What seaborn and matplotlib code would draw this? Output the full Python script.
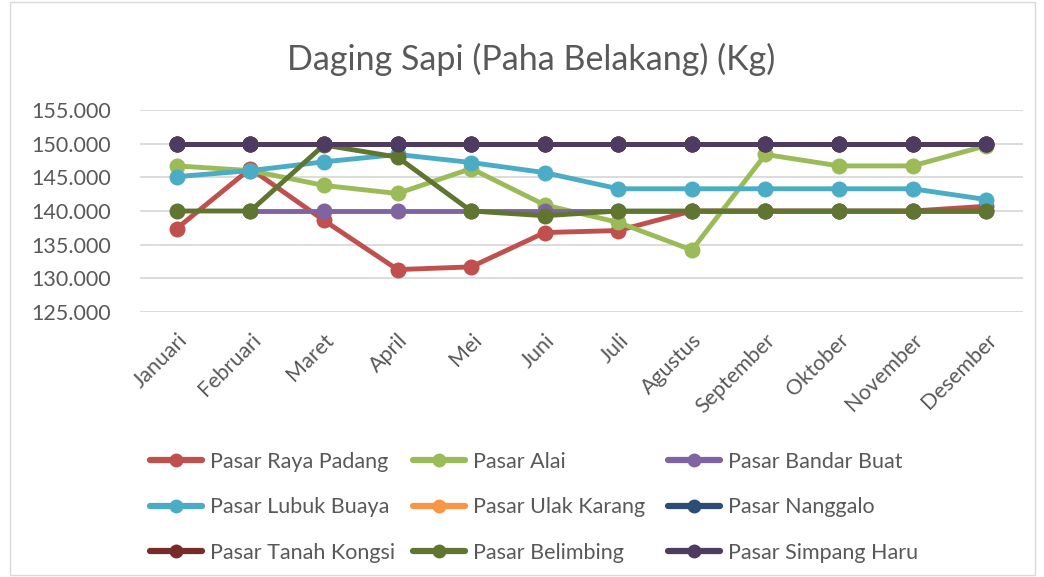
import numpy as np
import pandas as pd
import matplotlib
matplotlib.use("Agg")
import matplotlib.pyplot as plt
from matplotlib.patches import Rectangle
from matplotlib.lines import Line2D
from matplotlib.ticker import FuncFormatter
import seaborn as sns

# ── Data ────────────────────────────────────────────────
months = ["Januari", "Februari", "Maret", "April", "Mei", "Juni", "Juli",
          "Agustus", "September", "Oktober", "November", "Desember"]

raya_padang   = [137400, 146300, 138600, 131300, 131700, 136800, 137100, 140000, 140000, 140000, 140000, 140700]
alai          = [146700, 146000, 143800, 142600, 146300, 140900, 138300, 134200, 148400, 146700, 146700, 149700]
bandar_buat   = [np.nan, 140000, 140000, 140000, 140000, 140000, 140000, 140000, 140000, 140000, 140000, 140000]
lubuk_buaya   = [145100, 146000, 147300, 148400, 147200, 145700, 143300, 143300, 143300, 143300, 143300, 141700]
ulak_karang   = [150000] * 12
nanggalo      = [150000] * 12
tanah_kongsi  = [150000] * 12
belimbing     = [140000, 140000, 149800, 148000, 140000, 139300, 140000, 140000, 140000, 140000, 140000, 140000]
simpang_haru  = [150000] * 12

series = {
    "Pasar Raya Padang": raya_padang,
    "Pasar Alai": alai,
    "Pasar Bandar Buat": bandar_buat,
    "Pasar Lubuk Buaya": lubuk_buaya,
    "Pasar Ulak Karang": ulak_karang,
    "Pasar Nanggalo": nanggalo,
    "Pasar Tanah Kongsi": tanah_kongsi,
    "Pasar Belimbing": belimbing,
    "Pasar Simpang Haru": simpang_haru,
}
colors = ["#C0504D", "#9BBB59", "#8064A2", "#4BACC6", "#F79646",
          "#2C4D75", "#772C2A", "#5F7530", "#4D3B62"]

rows = []
for name, vals in series.items():
    for i, v in enumerate(vals):
        rows.append({"idx": i, "Pasar": name, "Harga": v})
df = pd.DataFrame(rows).dropna()

# ── Plot ────────────────────────────────────────────────
sns.set_theme(style="white")
plt.rcParams["font.family"] = ["Lato", "DejaVu Sans"]
plt.rcParams["ytick.major.pad"] = 21
plt.rcParams["xtick.major.pad"] = 13
text_col = "#595959"
W, H = 1044, 577

fig = plt.figure(figsize=(W / 100, H / 100), dpi=100)
ax = fig.add_axes([140 / W, 1 - 312 / H, 883 / W, 202 / H])

sns.lineplot(data=df, x="idx", y="Harga", hue="Pasar", hue_order=list(series.keys()),
             palette=colors, marker="o", markersize=11.5, markeredgewidth=0,
             linewidth=3.5, ax=ax, legend=False)

ax.set_xlim(-0.5, 11.5)
ax.set_ylim(125000, 155000)
ax.set_yticks(np.arange(125000, 155001, 5000))
ax.yaxis.set_major_formatter(FuncFormatter(lambda v, p: f"{v:,.0f}".replace(",", ".")))
ax.set_xticks(range(12))
ax.set_xticklabels(months, rotation=45, ha="right", rotation_mode="anchor")
ax.tick_params(axis="both", length=0, labelsize=15.5, colors=text_col)
ax.set_xlabel("")
ax.set_ylabel("")
ax.grid(axis="y", color="#d9d9d9", linewidth=1.3)
ax.set_axisbelow(True)
for s in ax.spines.values():
    s.set_visible(False)

fig.text(531 / W, 1 - 59 / H, "Daging Sapi (Paha Belakang) (Kg)", fontsize=24.5,
         color=text_col, ha="center", va="center")

# legend: three columns placed like the original (row-major order)
names = list(series.keys())
col_x = [150, 413, 668]
for c in range(3):
    idxs = [c, c + 3, c + 6]
    hs = [Line2D([], [], color=colors[i], linewidth=4.5, marker="o",
                 markersize=10, markeredgewidth=0) for i in idxs]
    fig.legend(hs, [names[i] for i in idxs], loc="upper left",
               bbox_to_anchor=(col_x[c] / W, 1 - 452 / H),
               frameon=False, fontsize=15.5, labelcolor=text_col,
               handlelength=2.4, handletextpad=0.4, labelspacing=1.18,
               borderpad=0, borderaxespad=0)

fig.patches.append(Rectangle((10 / W, 2 / H), 1025 / W, 573 / H,
                             transform=fig.transFigure, fill=False,
                             edgecolor="#d9d9d9", linewidth=1))

plt.savefig("out.png", dpi=100)
plt.close()
